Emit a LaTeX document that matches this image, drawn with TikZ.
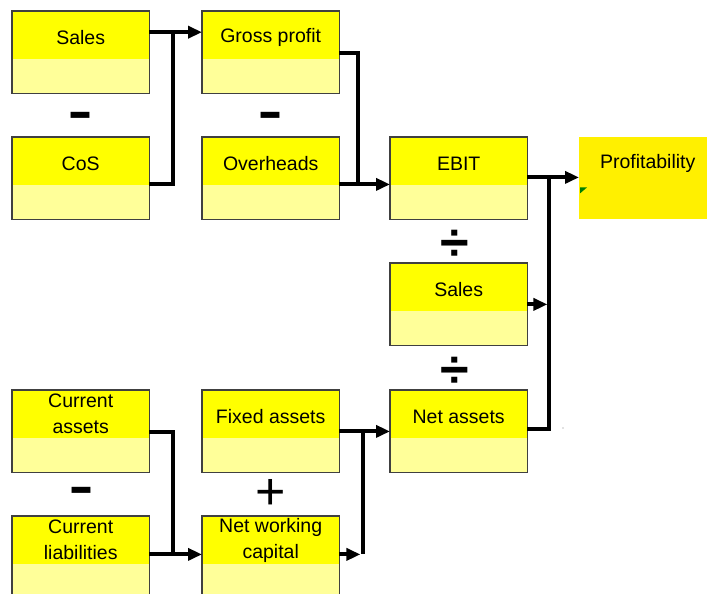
\documentclass[tikz,border=0pt]{standalone}
\usepackage{fontspec}
\setmainfont{Liberation Sans}
\newfontfamily\opfont{DejaVu Sans}
\usetikzlibrary{arrows.meta}
\definecolor{topyellow}{RGB}{255,255,0}
\definecolor{lowyellow}{RGB}{255,255,153}
\definecolor{resultyellow}{RGB}{255,240,0}
\definecolor{boxline}{RGB}{64,64,64}
\begin{document}
\begin{tikzpicture}[x=1pt,y=-1pt,line join=miter,
  acct/.style={rectangle,fill=topyellow,anchor=north west,inner sep=0pt,
    minimum width=137pt,minimum height=48pt,align=center,
    font=\fontsize{19.5}{26}\selectfont,
    execute at begin node={\rule{0pt}{18pt}}},
  wire/.style={line width=4pt},
  link/.style={wire,-{Triangle[length=14pt,width=12pt]}},
  opsign/.style={inner sep=0pt,font=\fontsize{52}{52}\selectfont},
  opminus/.style={inner sep=0pt,font=\opfont\bfseries\fontsize{48}{48}\selectfont}]
 \useasboundingbox (0,0) rectangle (707,594);
 \clip (0,0) rectangle (707,594);
 \node[acct] (sales) at (12,11) {Sales};
 \node[acct] (cos) at (12,137) {CoS};
 \node[acct] (gross) at (202,11) {Gross profit};
 \node[acct] (over) at (202,137) {Overheads};
 \node[acct] (ebit) at (390,137) {EBIT};
 \node[acct,fill=resultyellow] (profit) at (579,137) {Profitability};
 \node[acct] (sales2) at (390,263) {Sales};
 \node[acct] (netas) at (390,390) {Net assets};
 \node[acct] (curas) at (12,390) {Current\\assets};
 \node[acct] (fixed) at (202,390) {Fixed assets};
 \node[acct] (curli) at (12,516) {Current\\liabilities};
 \node[acct] (nwc) at (202,516) {Net working\\capital};
 % lower half of every box is a paler yellow, border goes round both halves
 \foreach \n in {sales,cos,gross,over,ebit,sales2,netas,curas,fixed,curli,nwc}{
   \fill[lowyellow] (\n.south west) rectangle ([yshift=-34pt]\n.south east);
   \draw[boxline,line width=1.3pt] (\n.north west) rectangle ([yshift=-34pt]\n.south east);
 }
 \fill[resultyellow] (profit.south west) rectangle ([yshift=-34pt]profit.south east);
 \fill[green!50!black] ([shift={(1pt,-2pt)}]profit.south west) -- ++(7,0) -- ++(-7,6) -- cycle;
 % operators between the boxes
 \node[opminus] (minus1) at (80,120) {–};
 \node[opminus] (minus2) at (270,120) {–};
 \node[opsign,font=\bfseries\fontsize{52}{52}\selectfont] (div1) at (455,245) {÷};
 \node[opsign,font=\bfseries\fontsize{52}{52}\selectfont] (div2) at (455,372) {÷};
 \node[opminus] (minus3) at (81,495) {–};
 \node[opsign] (plus1) at (270.5,494) {+};
 % connectors
 \coordinate (j1) at ([xshift=24pt,yshift=3pt]sales.east);
 \draw[link] ([yshift=3pt]sales.east) -- ([yshift=3pt]gross.west);
 \draw[wire] ([yshift=1pt]cos.south east) -| (j1);
 \coordinate (j2) at ([xshift=19pt,yshift=1pt]over.south east);
 \draw[wire] ([yshift=6pt]gross.south east) -| (j2);
 \draw[link] ([yshift=1pt]over.south east) -- ([yshift=1pt]ebit.south west);
 \coordinate (j3) at ([xshift=22pt,yshift=8pt]ebit.south east);
 \draw[link] ([yshift=8pt]ebit.south east) -- ([yshift=8pt]profit.south west);
 \coordinate (j4) at ([xshift=20pt,yshift=7pt]sales2.south east);
 \draw[link] ([yshift=7pt]sales2.south east) -- (j4);
 \draw[wire] ([yshift=9pt]netas.south east) -| (j3);
 \coordinate (j5) at ([xshift=24pt,yshift=10pt]curli.south east);
 \draw[link] ([yshift=10pt]curli.south east) -- ([yshift=10pt]nwc.south west);
 \draw[wire] ([yshift=6pt]curas.south east) -| (j5);
 \coordinate (j6) at ([xshift=24pt,yshift=7pt]fixed.south east);
 \draw[link] ([yshift=7pt]fixed.south east) -- ([yshift=7pt]netas.south west);
 \coordinate (j7) at ([xshift=21pt,yshift=10pt]nwc.south east);
 \draw[link] ([yshift=10pt]nwc.south east) -- (j7);
 \draw[wire] (j6) -- (j6 |- j7);
 \fill[gray] (563,428) circle (0.7);
\end{tikzpicture}
\end{document}
